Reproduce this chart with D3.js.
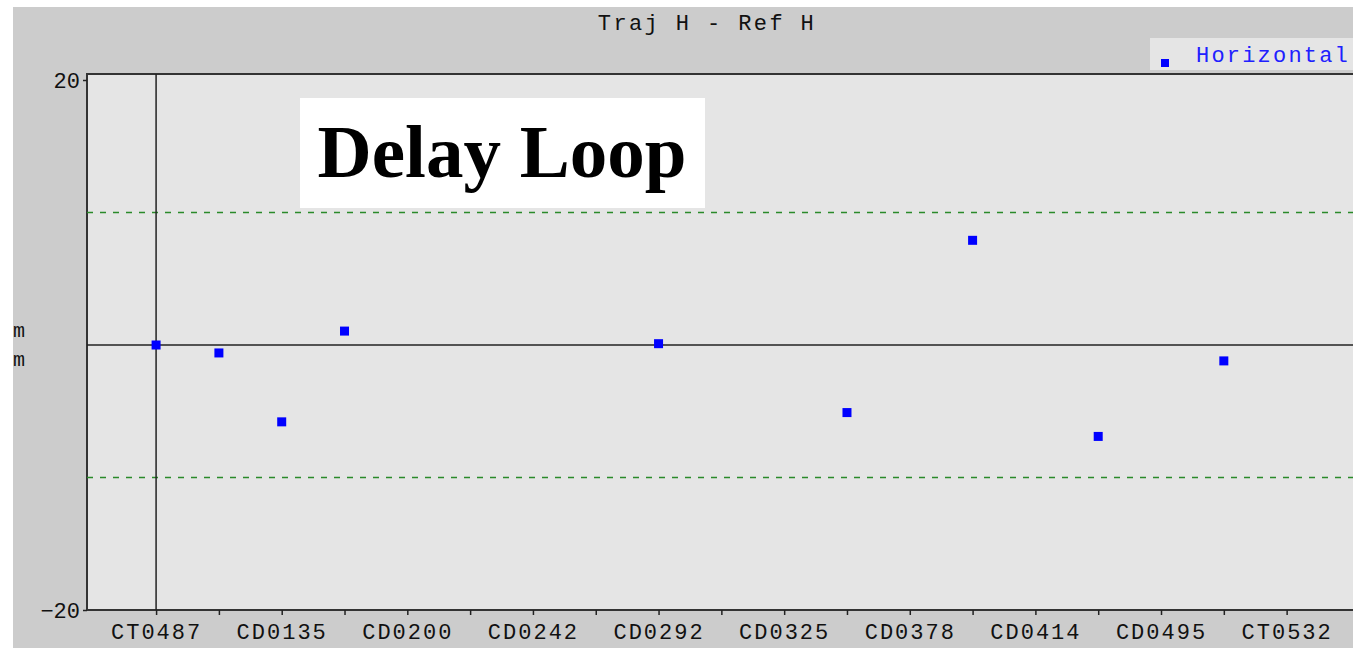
<!DOCTYPE html>
<html>
<head>
<meta charset="utf-8">
<script src="https://cdn.jsdelivr.net/npm/d3@7"></script>
<style>
  body { margin: 0; background: #fff; }
  svg { display: block; }
  text { font-family: "Liberation Mono", "DejaVu Sans Mono", monospace; }
</style>
</head>
<body>
<div id="grafico"></div>
<script>
// categories along the x axis (only every second one is labelled)
const categorias = ["CT0487", "", "CD0135", "", "CD0200", "", "CD0242", "", "CD0292", "",
                    "CD0325", "", "CD0378", "", "CD0414", "", "CD0495", "", "CT0532"];
// index of the category and value (mm) for each point
const puntosIdx = [0, 1, 2, 3, 8, 11, 13, 15, 17];
const puntosVal = [0, -0.6, -5.8, 1.05, 0.1, -5.1, 7.9, -6.9, -1.2];
const limites = [10, -10];
const yTicks = [20, -20];

const width = 1353, height = 648;
const plotLeft = 87, plotTop = 74, plotBottom = 610, plotRight = 1362;

const svg = d3.select("#grafico").append("svg")
  .attr("width", width).attr("height", height);

// gray frame
svg.append("rect").attr("x", 13).attr("y", 7)
  .attr("width", width - 13).attr("height", height - 7).attr("fill", "#cccccc");

// scales
const x = d3.scaleLinear().domain([-1.1, 19.2]).range([plotLeft, plotRight]);
const y = d3.scaleLinear().domain([-20, 20]).range([plotBottom, 80]);

// plot area
svg.append("rect").attr("x", plotLeft).attr("y", plotTop)
  .attr("width", plotRight - plotLeft).attr("height", plotBottom - plotTop)
  .attr("fill", "#e5e5e5").attr("stroke", "#333").attr("stroke-width", 2);

// title
svg.append("text").attr("x", 707).attr("y", 30).attr("text-anchor", "middle")
  .style("font-size", "22px").style("letter-spacing", "2.4px").attr("fill", "#111")
  .text("Traj H - Ref H");

// limit lines
svg.selectAll("line.lim").data(limites).enter().append("line")
  .attr("class", "lim")
  .attr("x1", plotLeft).attr("x2", plotRight)
  .attr("y1", d => y(d)).attr("y2", d => y(d))
  .attr("stroke", "#2a8a2a").attr("stroke-width", 1.3).attr("stroke-dasharray", "6,7");

// zero line and vertical reference line
svg.append("line").attr("x1", plotLeft).attr("x2", plotRight)
  .attr("y1", y(0)).attr("y2", y(0)).attr("stroke", "#222").attr("stroke-width", 1.5);
svg.append("line").attr("x1", x(0)).attr("x2", x(0))
  .attr("y1", plotTop).attr("y2", plotBottom).attr("stroke", "#222").attr("stroke-width", 1.5);

// x axis
const xAxis = d3.axisBottom(x)
  .tickValues(d3.range(categorias.length))
  .tickSize(5).tickPadding(4)
  .tickFormat(i => categorias[i]);
const gx = svg.append("g").attr("transform", `translate(0,${plotBottom})`).call(xAxis);
gx.select(".domain").remove();
gx.selectAll("line").attr("stroke", "#222").attr("stroke-width", 1.5);
gx.selectAll("text").style("font-size", "22px").style("letter-spacing", "2px")
  .attr("fill", "#111").attr("dy", "0.9em");

// y axis
const yAxis = d3.axisLeft(y).tickValues(yTicks).tickSize(4).tickPadding(3).tickFormat(d3.format("d"));
const gy = svg.append("g").attr("transform", `translate(${plotLeft},0)`).call(yAxis);
gy.select(".domain").remove();
gy.selectAll("line").attr("stroke", "#222").attr("stroke-width", 1.5);
gy.selectAll("text").style("font-size", "22px").attr("fill", "#111");

// unit label
svg.append("text").attr("x", 13).attr("y", 337).style("font-size", "20px").attr("fill", "#111").text("m");
svg.append("text").attr("x", 13).attr("y", 366).style("font-size", "20px").attr("fill", "#111").text("m");

// points
const puntos = puntosIdx.map((d, i) => ({ i: d, v: puntosVal[i] }));
svg.selectAll("rect.pt").data(puntos).enter().append("rect")
  .attr("class", "pt")
  .attr("x", d => x(d.i) - 4.5).attr("y", d => y(d.v) - 4.5)
  .attr("width", 9).attr("height", 9).attr("fill", "#0000ff");

// legend
svg.append("rect").attr("x", 1150).attr("y", 38).attr("width", 210).attr("height", 32).attr("fill", "#e5e5e5");
svg.append("rect").attr("x", 1161).attr("y", 59).attr("width", 8).attr("height", 8).attr("fill", "#0000ff");
svg.append("text").attr("x", 1196).attr("y", 62).style("font-size", "22px").style("letter-spacing", "2.2px")
  .attr("fill", "#2020ff").text("Horizontal");

// annotation box
svg.append("rect").attr("x", 300).attr("y", 98).attr("width", 405).attr("height", 110).attr("fill", "#fff");
svg.append("text").attr("x", 502).attr("y", 177).attr("text-anchor", "middle")
  .style("font-family", "'Liberation Serif', 'DejaVu Serif', serif").style("font-weight", "bold")
  .style("font-size", "75px").attr("fill", "#000").text("Delay Loop");
</script>
</body>
</html>
